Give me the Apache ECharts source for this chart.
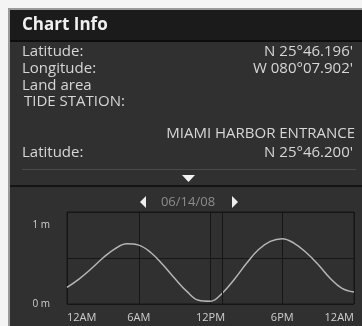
<!DOCTYPE html>
<html>
<head>
<meta charset="utf-8">
<script src="https://cdn.jsdelivr.net/npm/echarts@6/dist/echarts.min.js"></script>
<style>
html,body{margin:0;padding:0;background:#f4f4f4;}
#c{width:362px;height:326px;}
</style>
</head>
<body>
<div id="c"></div>
<script>
// ---- data ----
const titleText = 'Chart Info';
const infoLabels = ['Latitude:', 'Longitude:', 'Land area', 'TIDE STATION:'];
const infoValues = ['N 25\u00b046.196\'', 'W 080\u00b007.902\'', '', ''];
const stationName = 'MIAMI HARBOR ENTRANCE';
const stationLatLabel = 'Latitude:';
const stationLatValue = 'N 25\u00b046.200\'';
const dateText = '06/14/08';
const hours = [0,1,2,3,4,5,6,7,8,9,10,11,12,13,14,15,16,17,18,19,20,21,22,23,24];
const levelsM = [0.18,0.27,0.38,0.50,0.60,0.655,0.64,0.56,0.43,0.28,0.14,0.04,0.03,0.12,0.27,0.44,0.59,0.68,0.71,0.66,0.56,0.43,0.28,0.17,0.13];
const xTickLabels = ['12AM','6AM','12PM','6PM','12AM'];
const yTickLabels = ['0 m','','1 m'];
const cursorHour = 12.95;

const FONT = '"Open Sans", "DejaVu Sans", sans-serif';
const chart = echarts.init(document.getElementById('c'), null, {renderer:'canvas'});

const graphics = [
  // outer frame
  {type:'rect', shape:{x:8,y:8,width:354,height:318}, style:{fill:'#9a9a9a'}, z:-10},
  {type:'rect', shape:{x:10,y:10,width:352,height:316}, style:{fill:'#303030'}, z:-9},
  // title bar
  {type:'rect', shape:{x:10,y:10,width:352,height:30}, style:{fill:'#1b1b1b'}, z:-8},
  {type:'rect', shape:{x:10,y:40,width:352,height:2}, style:{fill:'#0e0e0e'}, z:-8},
  {type:'text', x:22, y:25, style:{text:titleText, fill:'#f0f0f0', font:'bold 17px '+FONT, verticalAlign:'middle'}},
  // separator lines
  {type:'rect', shape:{x:22,y:169,width:334,height:1}, style:{fill:'#4a4a4a'}},
  {type:'polygon', shape:{points:[[182,175],[195,175],[188.5,182]]}, style:{fill:'#f2f2f2'}},
  {type:'rect', shape:{x:10,y:185,width:352,height:2}, style:{fill:'#141414'}},
  // date nav
  {type:'polygon', shape:{points:[[146,196],[146,208],[140,202]]}, style:{fill:'#eeeeee'}},
  {type:'polygon', shape:{points:[[232,196],[232,208],[238,202]]}, style:{fill:'#eeeeee'}},
  {type:'text', x:188, y:202, style:{text:dateText, fill:'#8c8c8c', font:'13px '+FONT, align:'center', verticalAlign:'middle'}},
  // station
  {type:'text', x:355, y:134, style:{text:stationName, fill:'#d6d6d6', font:'15px '+FONT, align:'right', verticalAlign:'middle'}},
  {type:'text', x:22, y:153, style:{text:stationLatLabel, fill:'#d6d6d6', font:'15px '+FONT, verticalAlign:'middle'}},
  {type:'text', x:353, y:153, style:{text:stationLatValue, fill:'#d6d6d6', font:'15px '+FONT, align:'right', verticalAlign:'middle'}}
];
const rowY = [52, 69, 86, 102];
infoLabels.forEach((t, i) => {
  graphics.push({type:'text', x:(i===3?24:22), y:rowY[i], style:{text:t, fill:'#d6d6d6', font:'15px '+FONT, verticalAlign:'middle'}});
  if (infoValues[i]) graphics.push({type:'text', x:353, y:rowY[i], style:{text:infoValues[i], fill:'#d6d6d6', font:'15px '+FONT, align:'right', verticalAlign:'middle'}});
});

chart.setOption({
  backgroundColor:'transparent',
  animation:false,
  graphic:graphics,
  grid:{left:67, right:8, top:212, bottom:22, show:true, borderColor:'#161616', borderWidth:1, backgroundColor:'transparent'},
  xAxis:{
    type:'value', min:0, max:24, interval:6,
    axisLine:{show:false}, axisTick:{show:false},
    splitLine:{show:true, lineStyle:{color:'#161616', width:1}},
    axisLabel:{
      color:'#cfcfcf', fontSize:11, fontFamily:FONT, margin:8,
      alignMinLabel:'left', alignMaxLabel:'right',
      formatter:(v)=>xTickLabels[Math.round(v/6)]
    }
  },
  yAxis:{
    type:'value', min:0, max:1, interval:0.5,
    axisLine:{show:false}, axisTick:{show:false},
    splitLine:{show:true, lineStyle:{color:'#161616', width:1}},
    axisLabel:{
      color:'#cfcfcf', fontSize:10, fontFamily:FONT, margin:17,
      verticalAlignMaxLabel:'top',
      formatter:(v)=>{const s=yTickLabels[Math.round(v*2)]; return v===1 ? '{t|'+s+'}' : s;},
      rich:{t:{color:'#cfcfcf', fontSize:10, fontFamily:FONT, padding:[8,0,0,0]}}
    }
  },
  series:[{
    type:'line',
    data:hours.map((h,i)=>[h, levelsM[i]]),
    smooth:0.4, symbol:'none',
    lineStyle:{color:'#b5b5b5', width:1.5},
    markLine:{
      silent:true, symbol:'none', label:{show:false},
      lineStyle:{color:'#161616', width:1, type:'solid'},
      data:[{xAxis:cursorHour}]
    }
  }]
});
</script>
</body>
</html>
